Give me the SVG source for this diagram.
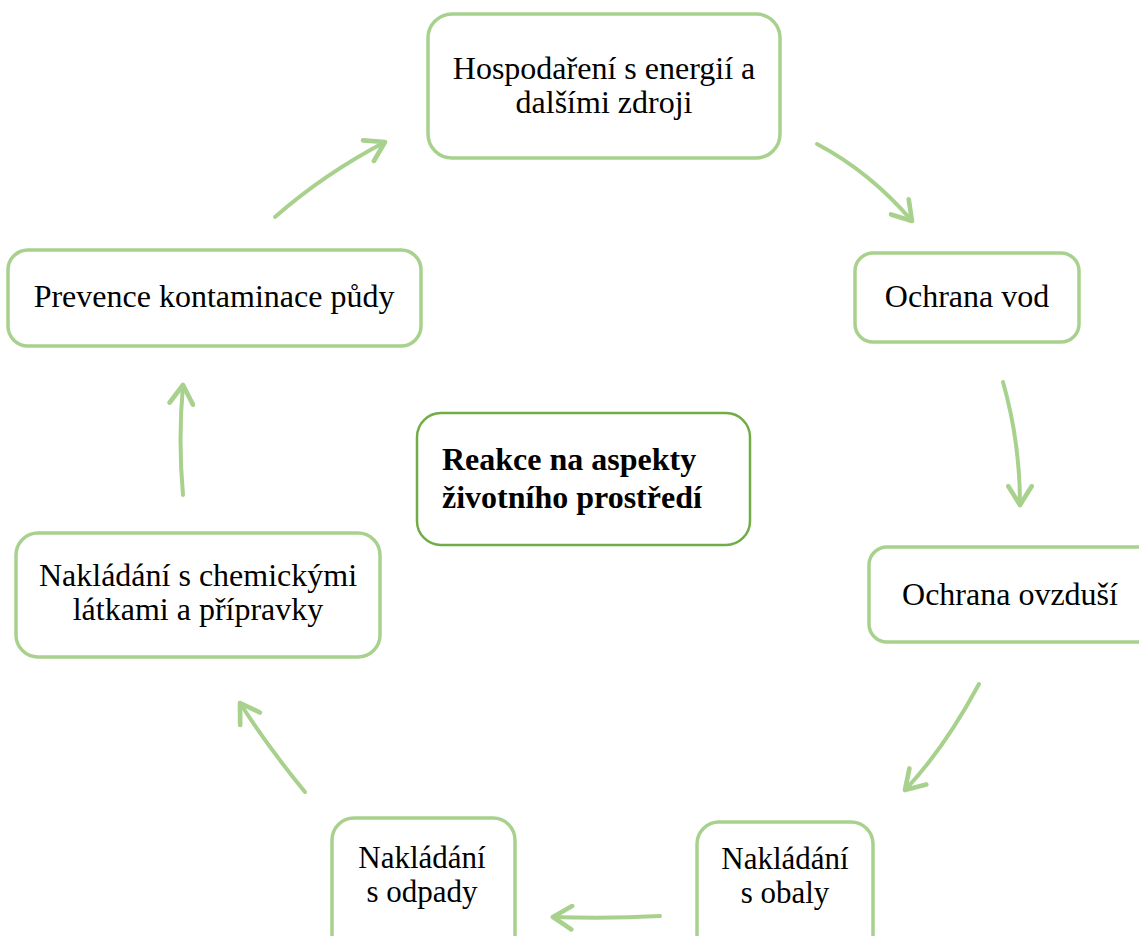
<svg xmlns="http://www.w3.org/2000/svg" width="1139" height="936" viewBox="0 0 1139 936">
<defs>
<style>
.box{fill:#fff;stroke:#A9D18E;stroke-width:3.5}
.center{fill:#fff;stroke:#70AD47;stroke-width:2.5}
.t{font-family:"Liberation Serif","Times New Roman",serif;font-size:32px;fill:#000;text-anchor:middle}
.s{font-size:31px}
.b{font-family:"Liberation Serif","Times New Roman",serif;font-size:32px;font-weight:bold;fill:#000}
.arr{fill:none;stroke:#A9D18E;stroke-width:4;stroke-linecap:round;marker-end:url(#ah)}
</style>
<marker id="ah" markerUnits="userSpaceOnUse" markerWidth="24" markerHeight="28" viewBox="0 0 20 24" refX="18" refY="12" orient="auto">
<path d="M2,2 L18,12 L2,22" fill="none" stroke="#A9D18E" stroke-width="4" stroke-linecap="round" stroke-linejoin="round"/>
</marker>
</defs>
<rect width="1139" height="936" fill="#fff"/>
<g id="connectors">
<path class="arr" d="M275,217 Q324,174 385,142"/>
<path class="arr" d="M817,144 Q870,172 912,221"/>
<path class="arr" d="M1003,382 Q1020,442 1020,505"/>
<path class="arr" d="M979,684 Q944,749 905,790"/>
<path class="arr" d="M660,916 Q607,919 553,917"/>
<path class="arr" d="M305,792 Q268,747 240,703"/>
<path class="arr" d="M183,495 Q178,440 183,385"/>
</g>
<g id="n-energie">
<rect class="box" x="428" y="14" width="352" height="144" rx="24"/>
<text class="t" x="604" y="79">Hospodaření s energií a</text>
<text class="t" x="604" y="113">dalšími zdroji</text>
</g>
<g id="n-vody">
<rect class="box" x="855" y="253" width="224" height="89" rx="18"/>
<text class="t" x="967" y="307">Ochrana vod</text>
</g>
<g id="n-ovzdusi">
<rect class="box" x="869" y="547" width="290" height="95" rx="18"/>
<text class="t" x="1010" y="605">Ochrana ovzduší</text>
</g>
<g id="n-obaly">
<rect class="box" x="697" y="822" width="176" height="140" rx="22"/>
<text class="t s" x="785" y="869">Nakládání</text>
<text class="t s" x="785" y="903">s obaly</text>
</g>
<g id="n-odpady">
<rect class="box" x="332" y="818" width="183" height="140" rx="22"/>
<text class="t s" x="422" y="868">Nakládání</text>
<text class="t s" x="422" y="902">s odpady</text>
</g>
<g id="n-chemicke">
<rect class="box" x="16" y="533" width="364" height="124" rx="22"/>
<text class="t" x="198" y="586">Nakládání s chemickými</text>
<text class="t" x="198" y="620">látkami a přípravky</text>
</g>
<g id="n-puda">
<rect class="box" x="8" y="250" width="413" height="96" rx="20"/>
<text class="t" x="214" y="307">Prevence kontaminace půdy</text>
</g>
<g id="n-center">
<rect class="center" x="417" y="413" width="333" height="132" rx="24"/>
<text class="b" x="442" y="470">Reakce na aspekty</text>
<text class="b" x="442" y="508">životního prostředí</text>
</g>
</svg>
